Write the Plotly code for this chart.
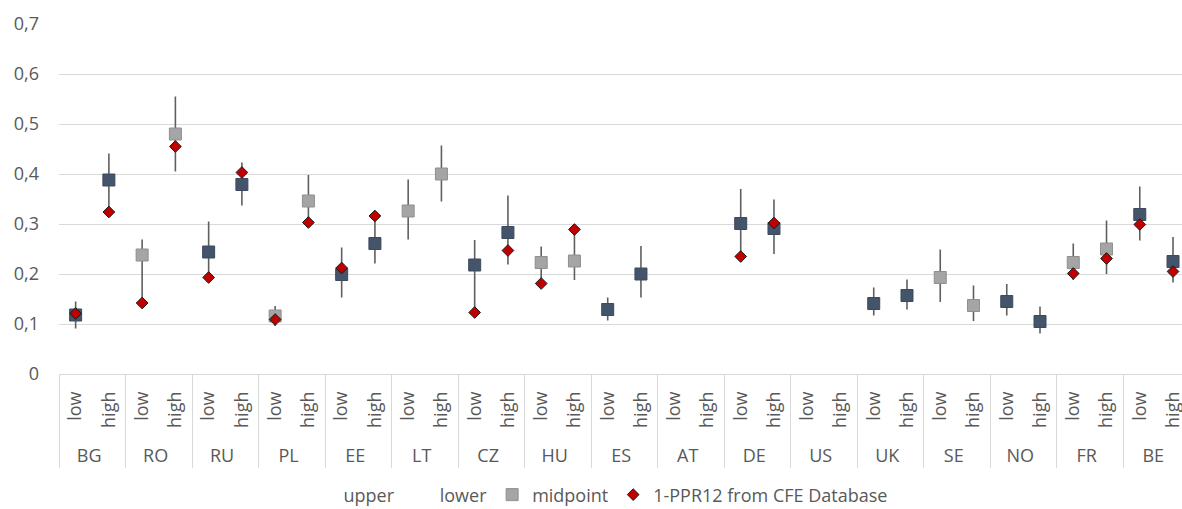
import plotly.graph_objects as go

countries = ["BG", "RO", "RU", "PL", "EE", "LT", "CZ", "HU", "ES",
             "AT", "DE", "US", "UK", "SE", "NO", "FR", "BE"]
levels = ["low", "high"]

upper = [0.145, 0.441, 0.269, 0.555, 0.305, 0.423, 0.136, 0.398, 0.253, 0.301,
         0.389, 0.457, 0.268, 0.357, 0.255, 0.264, 0.153, 0.256, None, None,
         0.370, 0.349, None, None, 0.173, 0.189, 0.249, 0.177, 0.180, 0.135,
         0.261, 0.307, 0.375, 0.274]
lower = [0.091, 0.335, 0.207, 0.405, 0.185, 0.337, 0.096, 0.294, 0.153, 0.221,
         0.269, 0.345, 0.168, 0.219, 0.191, 0.188, 0.107, 0.153, None, None,
         0.232, 0.240, None, None, 0.117, 0.129, 0.144, 0.106, 0.117, 0.081,
         0.188, 0.200, 0.267, 0.183]
midpoint = [0.118, 0.388, 0.238, 0.480, 0.244, 0.379, 0.116, 0.346, 0.199, 0.261,
            0.326, 0.400, 0.218, 0.283, 0.223, 0.226, 0.129, 0.200, None, None,
            0.301, 0.291, None, None, 0.141, 0.157, 0.193, 0.137, 0.145, 0.105,
            0.223, 0.250, 0.319, 0.225]
ppr12 = [0.121, 0.324, 0.142, 0.455, 0.193, 0.403, 0.109, 0.303, 0.212, 0.316,
         None, None, 0.123, 0.247, 0.181, 0.289, None, None, None, None,
         0.235, 0.302, None, None, None, None, None, None, None, None,
         0.201, 0.231, 0.299, 0.205]

# rotated inner labels, padded so they sit a little below the axis line
PAD = "\u00a0\u00a0"
x = [[c for c in countries for _ in levels],
     [l + PAD for _ in countries for l in levels]]
n = len(x[0])

# high-low lines span all series at each category
hi, lo = [], []
for i in range(n):
    vals = [v for v in (upper[i], lower[i], midpoint[i], ppr12[i]) if v is not None]
    if vals:
        hi.append(max(vals)); lo.append(min(vals))
    else:
        hi.append(None); lo.append(None)
minus = [(h - l) if h is not None else None for h, l in zip(hi, lo)]

mid_gray = [m if (i // 2) % 2 == 1 else None for i, m in enumerate(midpoint)]
mid_dark = [m if (i // 2) % 2 == 0 else None for i, m in enumerate(midpoint)]

FONT = "Open Sans, Lato, sans-serif"
TXT = "#595959"

fig = go.Figure()
fig.add_trace(go.Scatter(
    x=x, y=hi, mode="markers", marker=dict(size=1, color="rgba(0,0,0,0)"),
    error_y=dict(type="data", symmetric=False, array=[0] * n, arrayminus=minus,
                 color="#5f5f5f", thickness=1.6, width=0),
    showlegend=False, hoverinfo="skip"))
fig.add_trace(go.Scatter(x=x, y=upper, mode="markers", name="upper",
                         marker=dict(size=1, color="rgba(0,0,0,0)")))
fig.add_trace(go.Scatter(x=x, y=lower, mode="markers", name="lower",
                         marker=dict(size=1, color="rgba(0,0,0,0)")))
fig.add_trace(go.Scatter(x=x, y=mid_gray, mode="markers", name="midpoint",
                         marker=dict(symbol="square", size=12, color="#A5A5A5",
                                     line=dict(color="#8f8f8f", width=1))))
fig.add_trace(go.Scatter(x=x, y=mid_dark, mode="markers", name="midpoint",
                         showlegend=False,
                         marker=dict(symbol="square", size=12, color="#44546A",
                                     line=dict(color="#3b4a5e", width=1))))
fig.add_trace(go.Scatter(x=x, y=ppr12, mode="markers", name="1-PPR12 from CFE Database",
                         marker=dict(symbol="diamond", size=9, color="#C00000",
                                     line=dict(color="#1a1a1a", width=1))))

fig.update_layout(
    width=1182, height=509,
    margin=dict(l=59, r=0, t=24, b=135),
    plot_bgcolor="white", paper_bgcolor="white",
    separators=",.",
    font=dict(family=FONT, size=18, color=TXT),
    legend=dict(orientation="h", xref="paper", x=0.48, xanchor="center",
                yref="container", y=0.064, yanchor="top",
                font=dict(family=FONT, size=18, color=TXT), itemclick=False),
    showlegend=True,
)
fig.update_yaxes(range=[0, 0.7], dtick=0.1, showgrid=True, gridcolor="#D9D9D9",
                 gridwidth=1, zeroline=False, showline=False, automargin=False,
                 tickfont=dict(family=FONT, size=18, color=TXT), ticks="",
                 ticklabelstandoff=19)
fig.update_xaxes(type="multicategory", range=[-0.5, 33.27], showline=True,
                 linecolor="#D9D9D9", linewidth=1, showgrid=False, automargin=False,
                 showdividers=True, dividercolor="#D9D9D9", dividerwidth=1,
                 tickangle=-90, tickfont=dict(family=FONT, size=18, color=TXT),
                 ticks="")

fig.write_html("out.html", config={"displayModeBar": False},
               post_script="document.body.style.margin='0';document.body.style.overflow='hidden';")
